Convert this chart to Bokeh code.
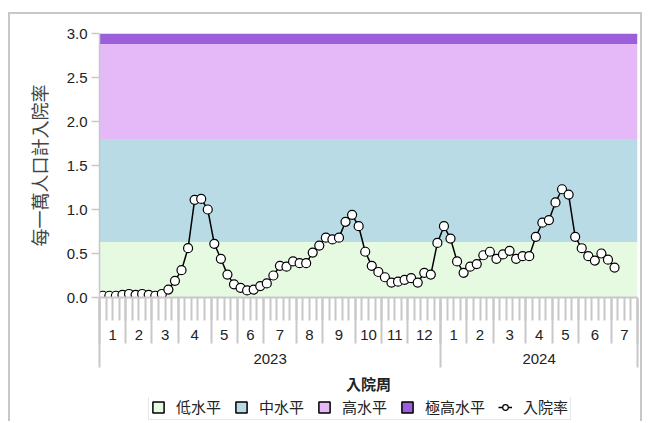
from bokeh.plotting import figure
from bokeh.layouts import column
from bokeh.models import (LinearAxis, FixedTicker, Range1d, Legend, LegendItem,
                          CustomJSTickFormatter, NumeralTickFormatter)
from bokeh.embed import file_html
from bokeh.resources import INLINE
import numpy as np

# ---------------- data ----------------
years = ["2023", "2024"]
weeks_per_month_2023 = [4, 4, 4, 5, 4, 4, 5, 4, 5, 4, 4, 5]
weeks_per_month_2024 = [4, 4, 5, 4, 4, 5, 4]
month_labels_2023 = [str(m) for m in range(1, 13)]
month_labels_2024 = [str(m) for m in range(1, 8)]

rate_2023 = [0.02, 0.02, 0.02, 0.03, 0.04, 0.03, 0.04, 0.03, 0.02, 0.04,
             0.09, 0.19, 0.31, 0.56, 1.11, 1.12, 1.00, 0.61, 0.44, 0.26,
             0.15, 0.11, 0.08, 0.09, 0.13, 0.16, 0.25, 0.36, 0.35, 0.41,
             0.39, 0.39, 0.51, 0.59, 0.68, 0.66, 0.68, 0.86, 0.94, 0.81,
             0.52, 0.36, 0.29, 0.23, 0.17, 0.18, 0.20, 0.22, 0.17, 0.28,
             0.26, 0.62]
rate_2024 = [0.81, 0.67, 0.41, 0.28, 0.35, 0.38, 0.48, 0.52, 0.44, 0.49,
             0.53, 0.44, 0.47, 0.47, 0.69, 0.85, 0.88, 1.08, 1.23, 1.17,
             0.69, 0.56, 0.47, 0.42, 0.50, 0.43, 0.34]

level_names = ["低水平", "中水平", "高水平", "極高水平"]
level_bottoms = [0.0, 0.63, 1.80, 2.88]
level_tops = [0.63, 1.80, 2.88, 3.0]
level_colors = ["#e6fae2", "#b8dbe6", "#e5b9f7", "#9a5fd9"]

y_ticks = [0.0, 0.5, 1.0, 1.5, 2.0, 2.5, 3.0]

series_name = "入院率"
x_title = "入院周"
y_title = "每一萬人口計入院率"

# ---------------- derived positions ----------------
month_counts = weeks_per_month_2023 + weeks_per_month_2024
month_labels = month_labels_2023 + month_labels_2024
month_bounds = np.concatenate([[0], np.cumsum(month_counts)]).astype(float)
month_centers = (month_bounds[:-1] + month_bounds[1:]) / 2
year_counts = [sum(weeks_per_month_2023), sum(weeks_per_month_2024)]
year_bounds = np.concatenate([[0], np.cumsum(year_counts)]).astype(float)
year_centers = (year_bounds[:-1] + year_bounds[1:]) / 2
n_weeks = float(year_bounds[-1])
rates = rate_2023 + rate_2024
xs = np.arange(len(rates)) + 0.5

NUM_FONT = "Liberation Sans"
CJK_FONT = "Noto Sans CJK TC"
MIX_FONT = "Liberation Sans, Noto Sans CJK TC"
GREY = "#c8c8c8"

# ---------------- main chart ----------------
p = figure(width=630, height=383,
           x_range=Range1d(0, n_weeks), y_range=Range1d(level_bottoms[0], level_tops[-1]),
           x_axis_location=None, toolbar_location=None, output_backend="svg",
           min_border_top=19, min_border_left=89, min_border_right=3, min_border_bottom=100)
p.grid.visible = False
p.outline_line_color = None

for b, t, c in zip(level_bottoms, level_tops, level_colors):
    p.quad(left=[0], right=[n_weeks], bottom=[b], top=[t], fill_color=c, line_color=None)

p.line(xs, rates, line_color="black", line_width=1.5)
p.scatter(xs, rates, size=9, fill_color="white", line_color="black", line_width=1.2)

# y axis
ya = p.yaxis[0]
ya.ticker = FixedTicker(ticks=y_ticks)
ya.formatter = NumeralTickFormatter(format="0.0")
ya.axis_line_color = GREY
ya.axis_line_width = 1.5
ya.major_tick_line_color = GREY
ya.major_tick_line_width = 1.5
ya.major_tick_out = 8
ya.major_tick_in = 0
ya.minor_tick_line_color = None
ya.major_label_standoff = 4
ya.major_label_text_font = NUM_FONT
ya.major_label_text_font_size = "15px"
ya.major_label_text_color = "#222222"
ya.axis_label = y_title
ya.axis_label_text_font = CJK_FONT
ya.axis_label_text_font_style = "normal"
ya.axis_label_text_font_size = "18px"
ya.axis_label_text_color = "#444444"
ya.axis_label_standoff = 12

def fmt(positions, labels):
    return CustomJSTickFormatter(args=dict(pos=list(map(float, positions)), labs=labels),
                                 code="const i = pos.indexOf(tick); return i >= 0 ? labs[i] : '';")

A_EXT = 44
B_EXT = 21

# week ticks + month labels
axA = LinearAxis(ticker=FixedTicker(ticks=list(month_centers),
                                    minor_ticks=list(np.arange(0, n_weeks + 1))),
                 formatter=fmt(month_centers, month_labels))
axA.axis_line_color = GREY
axA.axis_line_width = 2
axA.major_tick_line_color = None
axA.major_tick_out = 23
axA.major_tick_in = 0
axA.minor_tick_line_color = GREY
axA.minor_tick_line_width = 2
axA.minor_tick_out = 23
axA.minor_tick_in = 0
axA.major_label_standoff = 9
axA.major_label_text_font = NUM_FONT
axA.major_label_text_font_size = "15px"
axA.major_label_text_color = "#222222"
p.add_layout(axA, "below")

# month separators + year labels
axB = LinearAxis(ticker=FixedTicker(ticks=list(year_centers), minor_ticks=list(month_bounds)),
                 formatter=fmt(year_centers, years))
axB.axis_line_color = None
axB.major_tick_line_color = None
axB.major_tick_out = 0
axB.major_tick_in = 0
axB.minor_tick_line_color = GREY
axB.minor_tick_line_width = 2
axB.minor_tick_in = A_EXT
axB.minor_tick_out = 1
axB.major_label_standoff = 10
axB.major_label_text_font = NUM_FONT
axB.major_label_text_font_size = "15px"
axB.major_label_text_color = "#222222"
p.add_layout(axB, "below")

# year separators + axis title
axC = LinearAxis(ticker=FixedTicker(ticks=[], minor_ticks=list(year_bounds)))
axC.axis_line_color = None
axC.major_tick_line_color = None
axC.major_tick_out = 0
axC.major_tick_in = 0
axC.minor_tick_line_color = GREY
axC.minor_tick_line_width = 2
axC.minor_tick_in = A_EXT + B_EXT
axC.minor_tick_out = 1
axC.axis_label = x_title
axC.axis_label_text_font = CJK_FONT
axC.axis_label_text_font_style = "bold"
axC.axis_label_text_font_size = "15px"
axC.axis_label_text_color = "#222222"
axC.axis_label_standoff = 5
p.add_layout(axC, "below")

# ---------------- legend strip ----------------
lp = figure(width=630, height=24, x_range=Range1d(0, 1), y_range=Range1d(0, 1),
            toolbar_location=None, output_backend="svg",
            x_axis_location=None, y_axis_location=None,
            min_border_top=0, min_border_left=0, min_border_right=0, min_border_bottom=0)
lp.grid.visible = False
lp.outline_line_color = None

legend_items = []
for name, b, t, c in zip(level_names, level_bottoms, level_tops, level_colors):
    r = lp.quad(left=[0], right=[n_weeks], bottom=[b], top=[t], fill_color=c,
                line_color="black", line_width=1.5, visible=False)
    legend_items.append(LegendItem(label=name, renderers=[r]))
rl = lp.line(xs, rates, line_color="black", line_width=1.5, visible=False)
rs = lp.scatter(xs, rates, size=7, fill_color="white", line_color="black",
                line_width=1.2, visible=False)
legend_items.append(LegendItem(label=series_name, renderers=[rl, rs]))

legend = Legend(items=legend_items, orientation="horizontal", location=(49, 1),
                click_policy="none", inactive_fill_alpha=0)
legend.label_text_font = MIX_FONT
legend.label_text_font_size = "15px"
legend.label_text_color = "#222222"
legend.label_height = 12
legend.glyph_width = 14
legend.glyph_height = 14
legend.label_standoff = 11
legend.spacing = 13
legend.padding = 2
legend.margin = 0
legend.border_line_color = "#d0d0d0"
legend.border_line_width = 1.5
legend.background_fill_color = "white"
legend.background_fill_alpha = 1.0
lp.add_layout(legend, "center")

layout = column(p, lp, spacing=0)
layout.styles = {"margin-left": "8px", "margin-top": "12px",
                 "border-top": "2px solid #c8c8c8", "border-left": "2px solid #c8c8c8",
                 "border-right": "2px solid #c8c8c8"}

open("out.html", "w").write(file_html(layout, INLINE))
